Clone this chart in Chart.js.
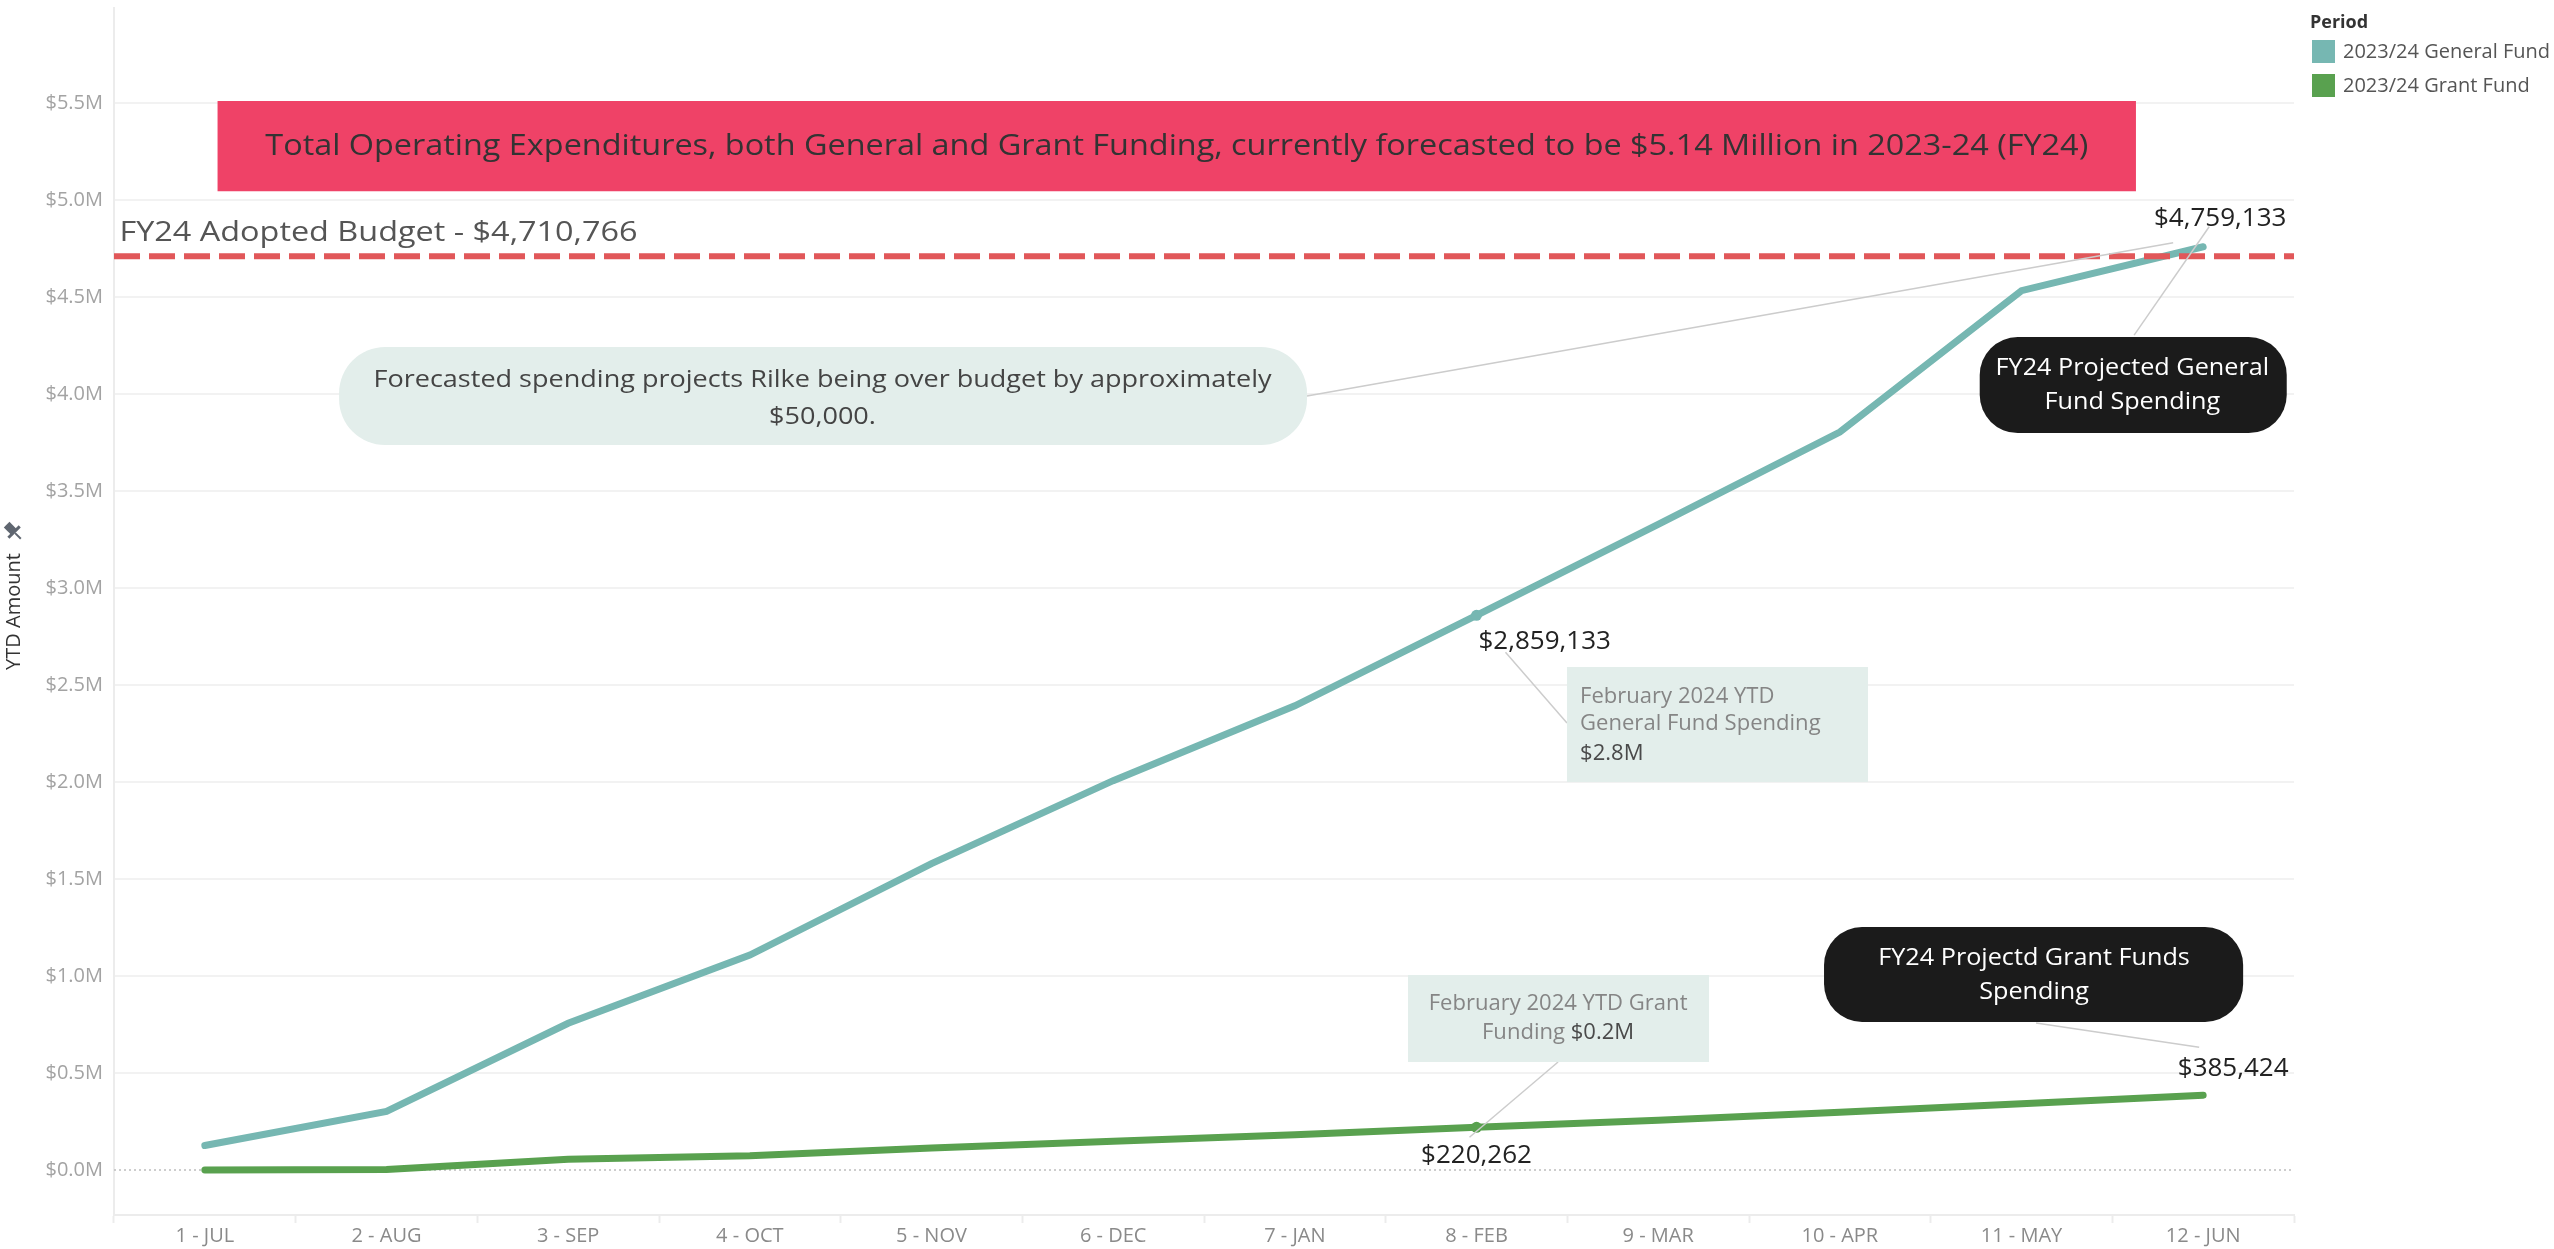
<!DOCTYPE html>
<html lang="en">
<head>
<meta charset="UTF-8">
<title>FY24 YTD Operating Expenditures</title>
<script src="https://cdn.jsdelivr.net/npm/chart.js"></script>
<style>
  body { margin: 0; background: #fff; }
  #wrap { width: 2554px; height: 1249px; position: relative; }
</style>
</head>
<body>
<div id="wrap"><canvas id="ytdChart"></canvas></div>
<script>
  const months = ['1 - JUL', '2 - AUG', '3 - SEP', '4 - OCT', '5 - NOV', '6 - DEC',
                  '7 - JAN', '8 - FEB', '9 - MAR', '10 - APR', '11 - MAY', '12 - JUN'];
  const generalFund = [126000, 302000, 756000, 1108000, 1579000, 2007000,
                       2393000, 2859133, 3328000, 3804000, 4533000, 4759133];
  const grantFund = [0, 3000, 56000, 74000, 114000, 148000,
                     182000, 220262, 257000, 298000, 341000, 385424];
  const yTickValues = [0, 500000, 1000000, 1500000, 2000000, 2500000,
                       3000000, 3500000, 4000000, 4500000, 5000000, 5500000];
  const adoptedBudget = 4710766;
  const periods = ['2023/24 General Fund', '2023/24 Grant Fund'];
  const periodColors = ['#76B7B2', '#59A14F'];
  const febIndex = 7;

  const FONT = '"Open Sans", "Noto Sans", sans-serif';
  Chart.defaults.font.family = FONT;

  const money = (v) => '$' + Math.round(v).toLocaleString('en-US');

  // little drawing helpers for the callouts
  function box(ctx, l, t, r, b, rad, fill) {
    const w = r - l, h = b - t;
    rad = Math.min(rad, h / 2, w / 2);
    ctx.beginPath();
    ctx.moveTo(l + rad, t);
    ctx.arcTo(r, t, r, b, rad);
    ctx.arcTo(r, b, l, b, rad);
    ctx.arcTo(l, b, l, t, rad);
    ctx.arcTo(l, t, r, t, rad);
    ctx.closePath();
    ctx.fillStyle = fill;
    ctx.fill();
  }

  // sx widens the glyphs a little, the source font runs wider than Open Sans
  function text(ctx, s, x, y, font, color, align, sx) {
    ctx.save();
    ctx.font = font;
    ctx.fillStyle = color;
    ctx.textAlign = align || 'center';
    ctx.textBaseline = 'middle';
    ctx.translate(x, y);
    ctx.scale(sx || 1, 1);
    ctx.fillText(s, 0, 0);
    ctx.restore();
  }

  function leader(ctx, x1, y1, x2, y2) {
    ctx.beginPath();
    ctx.moveTo(x1, y1);
    ctx.lineTo(x2, y2);
    ctx.setLineDash([]);
    ctx.strokeStyle = '#cccccc';
    ctx.lineWidth = 1.5;
    ctx.stroke();
  }

  const notes = {
    id: 'notes',
    beforeDatasetsDraw(chart) {
      const { ctx, chartArea: a, scales: { y } } = chart;
      const y0 = y.getPixelForValue(0);
      ctx.save();
      ctx.beginPath();
      ctx.moveTo(a.left, y0);
      ctx.lineTo(a.right, y0);
      ctx.setLineDash([2, 3]);
      ctx.strokeStyle = '#bdbdbd';
      ctx.lineWidth = 1.5;
      ctx.stroke();
      ctx.restore();
    },
    afterDatasetsDraw(chart) {
      const { ctx, chartArea: a, scales: { x, y } } = chart;
      const gx = (c) => x.getPixelForValue(c);
      const gy = (m) => y.getPixelForValue(m * 1e6);
      const last = months.length - 1;
      const febG = chart.getDatasetMeta(0).data[febIndex];
      const endG = chart.getDatasetMeta(0).data[last];
      const febR = chart.getDatasetMeta(1).data[febIndex];
      const endR = chart.getDatasetMeta(1).data[last];

      ctx.save();

      // adopted budget reference line
      const yb = y.getPixelForValue(adoptedBudget);
      ctx.beginPath();
      ctx.moveTo(a.left, yb);
      ctx.lineTo(a.right, yb);
      ctx.setLineDash([26, 9]);
      ctx.strokeStyle = '#E15759';
      ctx.lineWidth = 6;
      ctx.stroke();
      text(ctx, 'FY24 Adopted Budget - ' + money(adoptedBudget), gx(-0.47), gy(4.83),
           '27px ' + FONT, '#555', 'left', 1.2);

      // headline banner
      box(ctx, gx(0.07), gy(5.51), gx(10.63), gy(5.046), 0, '#EF4267');
      text(ctx, 'Total Operating Expenditures, both General and Grant Funding, currently forecasted to be $5.14 Million in 2023-24 (FY24)',
           gx(5.35), gy(5.278), '500 30px ' + FONT, '#333', 'center', 1.08);

      // over budget note
      leader(ctx, gx(6.067), gy(3.99), endG.x - 30, endG.y - 4);
      box(ctx, gx(0.739), gy(4.242), gx(6.067), gy(3.737), 46, '#E3EEEB');
      text(ctx, 'Forecasted spending projects Rilke being over budget by approximately',
           gx(3.40), gy(4.072), '23.5px ' + FONT, '#444', 'center', 1.15);
      text(ctx, '$50,000.', gx(3.40), gy(3.881), '23.5px ' + FONT, '#444', 'center', 1.15);

      // projected general fund
      leader(ctx, gx(10.62), gy(4.304), endG.x + 6, endG.y - 20);
      box(ctx, gx(9.77), gy(4.294), gx(11.46), gy(3.799), 38, '#1b1b1b');
      text(ctx, 'FY24 Projected General', gx(10.61), gy(4.134), '24px ' + FONT, '#fff', 'center', 1.05);
      text(ctx, 'Fund Spending', gx(10.61), gy(3.959), '24px ' + FONT, '#fff', 'center', 1.05);
      text(ctx, money(generalFund[last]), endG.x + 17, endG.y - 28, '26px ' + FONT, '#222');

      // february general fund
      text(ctx, money(generalFund[febIndex]), febG.x + 2, febG.y + 26, '26px ' + FONT, '#222', 'left');
      leader(ctx, febG.x + 29, febG.y + 37, gx(7.498), gy(2.304));
      box(ctx, gx(7.498), gy(2.593), gx(9.155), gy(2.0), 0, '#E3EEEB');
      text(ctx, 'February 2024 YTD', gx(7.57), gy(2.438), '21px ' + FONT, '#858585', 'left', 1.05);
      text(ctx, 'General Fund Spending', gx(7.57), gy(2.299), '21px ' + FONT, '#858585', 'left', 1.05);
      text(ctx, '$2.8M', gx(7.57), gy(2.144), '21px ' + FONT, '#4a4a4a', 'left', 1.05);

      // february grant fund
      text(ctx, money(grantFund[febIndex]), febR.x, febR.y + 28, '26px ' + FONT, '#222');
      leader(ctx, gx(7.449), gy(0.5567), febR.x - 7, febR.y + 10);
      box(ctx, gx(6.623), gy(1.005), gx(8.28), gy(0.5567), 0, '#E3EEEB');
      text(ctx, 'February 2024 YTD Grant', gx(7.449), gy(0.8557), '21px ' + FONT, '#858585', 'center', 1.05);
      ctx.font = '21px ' + FONT;
      const w1 = ctx.measureText('Funding ').width * 1.05;
      const w2 = ctx.measureText('$0.2M').width * 1.05;
      const sx = gx(7.449) - (w1 + w2) / 2;
      text(ctx, 'Funding ', sx, gy(0.7062), '21px ' + FONT, '#858585', 'left', 1.05);
      text(ctx, '$0.2M', sx + w1, gy(0.7062), '21px ' + FONT, '#4a4a4a', 'left', 1.05);

      // projected grant fund
      leader(ctx, gx(10.08), gy(0.7577), endR.x - 4, endR.y - 48);
      box(ctx, gx(8.913), gy(1.2526), gx(11.22), gy(0.7629), 38, '#1b1b1b');
      text(ctx, 'FY24 Projectd Grant Funds', gx(10.069), gy(1.0928), '24px ' + FONT, '#fff', 'center', 1.05);
      text(ctx, 'Spending', gx(10.069), gy(0.9175), '24px ' + FONT, '#fff', 'center', 1.05);
      text(ctx, money(grantFund[last]), endR.x + 30, endR.y - 27, '26px ' + FONT, '#222');

      ctx.restore();
    },
    afterDraw(chart) {
      const { ctx, chartArea: a } = chart;
      ctx.save();
      // legend
      text(ctx, 'Period', a.right + 16, 23, 'bold 18px ' + FONT, '#333', 'left');
      chart.data.datasets.forEach((ds, i) => {
        const top = 40 + i * 34;
        ctx.fillStyle = ds.borderColor;
        ctx.fillRect(a.right + 18, top, 23, 23);
        text(ctx, ds.label, a.right + 49, top + 12, '20px ' + FONT, '#555', 'left');
      });
      // pin icon next to the axis title
      ctx.translate(13, 531);
      ctx.rotate(-Math.PI / 4);
      ctx.fillStyle = '#5f6670';
      ctx.fillRect(-4, -9, 8, 10);
      ctx.fillRect(-8, 0, 16, 3);
      ctx.fillRect(-1, 3, 2, 8);
      ctx.restore();
    }
  };

  new Chart(document.getElementById('ytdChart'), {
    type: 'line',
    data: {
      labels: months,
      datasets: [
        {
          label: periods[0],
          data: generalFund,
          borderColor: periodColors[0],
          backgroundColor: periodColors[0],
          borderWidth: 7,
          borderCapStyle: 'round',
          tension: 0,
          pointRadius: months.map((m, i) => (i === febIndex ? 5.5 : 0)),
          pointBorderWidth: 0,
        },
        {
          label: periods[1],
          data: grantFund,
          borderColor: periodColors[1],
          backgroundColor: periodColors[1],
          borderWidth: 7,
          borderCapStyle: 'round',
          tension: 0,
          pointRadius: months.map((m, i) => (i === febIndex ? 5.5 : 0)),
          pointBorderWidth: 0,
        },
      ],
    },
    options: {
      responsive: true,
      maintainAspectRatio: false,
      animation: false,
      devicePixelRatio: 1,
      layout: { padding: { top: 8, right: 260, bottom: 0, left: 0 } },
      plugins: { legend: { display: false }, tooltip: { enabled: false } },
      scales: {
        x: {
          offset: true,
          grid: { offset: true, drawOnChartArea: false, drawTicks: true, tickLength: 8, tickColor: '#ececec', tickWidth: 2 },
          border: { display: true, color: '#ececec', width: 2 },
          ticks: { color: '#8a8a8a', font: { size: 20 }, padding: 1, maxRotation: 0, autoSkip: false },
          afterFit(scale) {
            scale.height = 34;
            scale.paddingLeft = 0;
            scale.paddingRight = 0;
          },
        },
        y: {
          min: -232000,
          max: 5990000,
          afterBuildTicks(scale) { scale.ticks = yTickValues.map((v) => ({ value: v })); },
          grid: {
            drawTicks: false,
            lineWidth: 2,
            color: (c) => (c.tick && c.tick.value === 0 ? 'rgba(0,0,0,0)' : '#f2f2f2'),
          },
          border: { display: true, color: '#ececec', width: 2 },
          ticks: {
            color: '#a3a3a3',
            font: { size: 20 },
            padding: 11,
            callback: (v) => '$' + (v / 1e6).toFixed(1) + 'M',
          },
          title: { display: true, text: 'YTD Amount', color: '#333', font: { size: 20 }, padding: { top: 2, bottom: 0 } },
          afterFit(scale) {
            scale.width = 114;
            scale.paddingTop = 0;
            scale.paddingBottom = 0;
          },
        },
      },
    },
    plugins: [notes],
  });
</script>
</body>
</html>
